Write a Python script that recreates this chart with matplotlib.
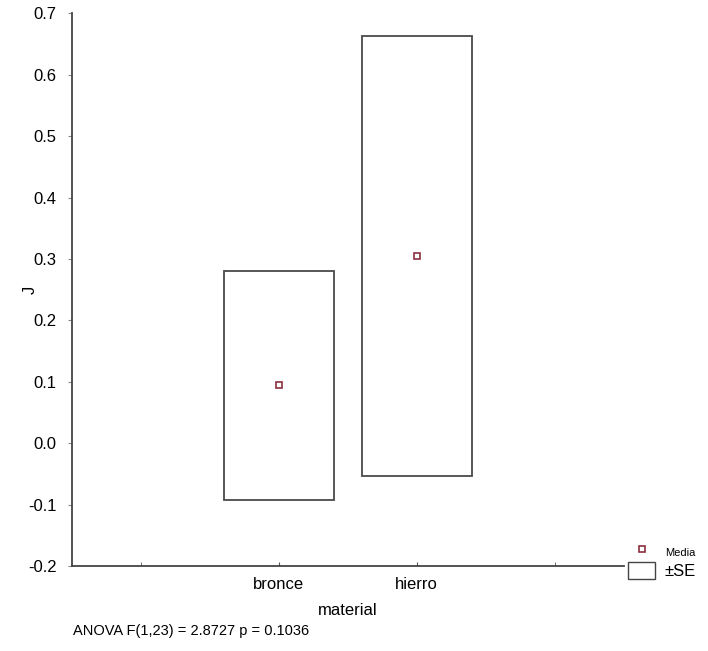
import numpy as np
import matplotlib
matplotlib.use("Agg")
import matplotlib.pyplot as plt
from matplotlib.lines import Line2D
from matplotlib.patches import Patch
from matplotlib.ticker import MultipleLocator, FormatStrFormatter

# data
categories = ["bronce", "hierro"]
means = [0.094, 0.305]
se = [0.187, 0.358]
anova_text = "ANOVA F(1,23) = 2.8727 p = 0.1036"

plt.rcParams['font.family'] = ['Liberation Sans', 'DejaVu Sans']

fig = plt.figure(figsize=(7.08, 6.51), dpi=100)
ax = fig.add_axes([0.1017, 0.1306, 0.779, 0.849])

x = np.arange(len(categories))
means = np.array(means)
se = np.array(se)

ax.bar(x, 2 * se, bottom=means - se, width=0.8, fill=False,
       edgecolor='#4a4a4a', linewidth=1.3, zorder=2)
ax.plot(x, means, linestyle='none', marker='s', markersize=4,
        markerfacecolor='white', markeredgecolor='#8b3040',
        markeredgewidth=1.2, zorder=3)

ax.set_xlim(-1.5, 2.5)
ax.set_ylim(-0.2, 0.7)
ax.set_xticks(x)
ax.set_xticklabels(categories, fontsize=12)
ax.set_xticks([-1, 2], minor=True)
ax.yaxis.set_major_locator(MultipleLocator(0.1))
ax.yaxis.set_major_formatter(FormatStrFormatter('%.1f'))
ax.tick_params(axis='y', labelsize=12, direction='out', length=3,
               color='#888888', pad=8)
ax.tick_params(axis='x', which='both', direction='in', length=3,
               color='#555555', pad=8)

ax.spines['right'].set_visible(False)
ax.spines['top'].set_visible(False)
for s in ['left', 'bottom']:
    ax.spines[s].set_color('#444444')
    ax.spines[s].set_linewidth(1.3)

ax.set_ylabel("J", fontsize=12)
ax.yaxis.set_label_coords(-0.062, 0.5)
ax.set_xlabel("material", fontsize=12, labelpad=8)

fig.text(0.103, 0.024, anova_text, fontsize=10.5,
         family=['Liberation Sans Narrow', 'Liberation Sans', 'DejaVu Sans'])

handles = [
    Line2D([], [], linestyle='none', marker='s', markersize=4,
           markerfacecolor='white', markeredgecolor='#8b3040',
           markeredgewidth=1.2),
    Patch(facecolor='white', edgecolor='#444444', linewidth=1.0),
]
leg = fig.legend(handles, ["Media", "\u00b1SE"], loc='upper left',
                 bbox_to_anchor=(0.878, 0.178), frameon=False,
                 fontsize=12, handlelength=1.6, handleheight=1.2,
                 handletextpad=0.6, labelspacing=0.2, borderaxespad=0)
leg.get_texts()[0].set_fontsize(8)

fig.savefig("out.png", dpi=100)
